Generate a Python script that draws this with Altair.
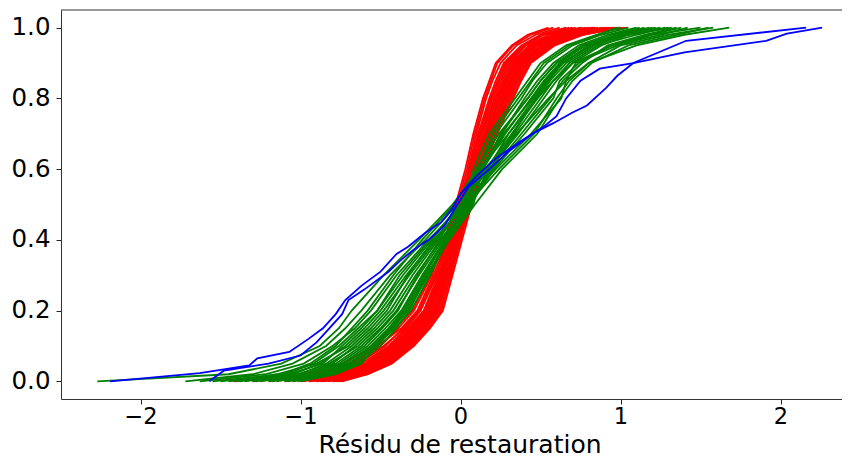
import altair as alt
import pandas as pd

# ECDF levels (cumulative fraction) used for the red and green curves
Y_LEVELS = [0.0, 0.02, 0.05, 0.10, 0.15, 0.20, 0.30, 0.40, 0.50, 0.60, 0.70,
            0.80, 0.85, 0.90, 0.95, 0.98, 1.0]

RED_X = [
    [-1.42, -0.98, -0.74, -0.54, -0.41, -0.30, -0.19, -0.09, -0.02, 0.04, 0.09, 0.15, 0.19, 0.23, 0.33, 0.44, 0.58],
    [-1.20, -0.92, -0.70, -0.50, -0.39, -0.29, -0.18, -0.10, -0.03, 0.03, 0.08, 0.14, 0.18, 0.22, 0.32, 0.42, 0.55],
    [-1.05, -0.85, -0.68, -0.52, -0.37, -0.27, -0.17, -0.08, -0.01, 0.05, 0.10, 0.16, 0.20, 0.25, 0.35, 0.47, 0.62],
    [-0.98, -0.80, -0.64, -0.47, -0.36, -0.26, -0.16, -0.07, 0.00, 0.06, 0.11, 0.18, 0.22, 0.27, 0.38, 0.50, 0.66],
    [-1.10, -0.78, -0.62, -0.45, -0.34, -0.25, -0.15, -0.08, 0.01, 0.05, 0.12, 0.19, 0.24, 0.29, 0.40, 0.52, 0.70],
    [-0.92, -0.75, -0.60, -0.44, -0.33, -0.23, -0.14, -0.06, 0.00, 0.07, 0.13, 0.20, 0.25, 0.30, 0.41, 0.55, 0.72],
    [-0.88, -0.73, -0.58, -0.43, -0.31, -0.22, -0.13, -0.05, 0.02, 0.08, 0.14, 0.21, 0.26, 0.31, 0.43, 0.57, 0.75],
    [-0.95, -0.72, -0.57, -0.41, -0.30, -0.21, -0.12, -0.06, 0.01, 0.08, 0.15, 0.22, 0.27, 0.32, 0.44, 0.58, 0.78],
    [-0.85, -0.70, -0.55, -0.40, -0.29, -0.20, -0.12, -0.04, 0.03, 0.09, 0.15, 0.23, 0.28, 0.33, 0.45, 0.60, 0.80],
    [-0.82, -0.68, -0.54, -0.38, -0.28, -0.19, -0.11, -0.03, 0.02, 0.10, 0.16, 0.24, 0.29, 0.34, 0.47, 0.62, 0.83],
    [-0.90, -0.66, -0.52, -0.37, -0.27, -0.18, -0.10, -0.04, 0.04, 0.10, 0.17, 0.25, 0.30, 0.35, 0.48, 0.63, 0.86],
    [-0.80, -0.65, -0.51, -0.36, -0.26, -0.18, -0.10, -0.02, 0.03, 0.11, 0.18, 0.26, 0.31, 0.36, 0.50, 0.65, 0.90],
    [-0.78, -0.63, -0.50, -0.35, -0.25, -0.17, -0.09, -0.03, 0.05, 0.11, 0.18, 0.27, 0.32, 0.37, 0.51, 0.67, 0.93],
    [-0.86, -0.62, -0.48, -0.34, -0.24, -0.16, -0.08, -0.01, 0.04, 0.12, 0.19, 0.28, 0.33, 0.38, 0.52, 0.69, 0.96],
    [-0.76, -0.61, -0.47, -0.33, -0.23, -0.15, -0.08, -0.02, 0.06, 0.12, 0.20, 0.29, 0.34, 0.39, 0.54, 0.70, 1.00],
    [-0.77, -0.60, -0.46, -0.32, -0.22, -0.14, -0.07, 0.00, 0.05, 0.13, 0.21, 0.30, 0.35, 0.41, 0.55, 0.72, 1.04],
    [-0.75, -0.59, -0.45, -0.31, -0.21, -0.13, -0.06, -0.01, 0.07, 0.13, 0.21, 0.31, 0.36, 0.42, 0.57, 0.74, 0.88],
    [-0.74, -0.58, -0.44, -0.30, -0.20, -0.12, -0.06, 0.00, 0.06, 0.14, 0.22, 0.32, 0.37, 0.43, 0.58, 0.76, 0.95],
    [-0.80, -0.58, -0.43, -0.29, -0.19, -0.11, -0.05, 0.01, 0.07, 0.14, 0.23, 0.33, 0.38, 0.44, 0.59, 0.77, 0.99],
    [-1.00, -0.76, -0.59, -0.42, -0.32, -0.22, -0.13, -0.05, 0.02, 0.09, 0.16, 0.25, 0.31, 0.37, 0.50, 0.64, 0.84],
    [-0.87, -0.69, -0.53, -0.39, -0.28, -0.19, -0.11, -0.03, 0.03, 0.10, 0.17, 0.27, 0.32, 0.39, 0.53, 0.71, 0.92],
    [-0.94, -0.71, -0.56, -0.42, -0.30, -0.21, -0.13, -0.06, 0.01, 0.07, 0.13, 0.22, 0.28, 0.34, 0.46, 0.59, 0.76],
    [-0.83, -0.67, -0.51, -0.36, -0.25, -0.16, -0.09, -0.02, 0.04, 0.11, 0.19, 0.28, 0.34, 0.40, 0.55, 0.73, 0.98],
    [-0.79, -0.64, -0.49, -0.34, -0.24, -0.15, -0.07, -0.01, 0.05, 0.12, 0.20, 0.30, 0.35, 0.42, 0.56, 0.75, 1.02],
    [-1.30, -0.88, -0.66, -0.48, -0.35, -0.25, -0.15, -0.07, 0.00, 0.06, 0.12, 0.19, 0.23, 0.28, 0.39, 0.51, 0.68],
    [-0.90, -0.74, -0.57, -0.40, -0.29, -0.20, -0.11, -0.04, 0.03, 0.09, 0.16, 0.24, 0.29, 0.35, 0.48, 0.61, 0.82],
]

GREEN_X = [
    [-2.27, -1.45, -1.12, -0.88, -0.76, -0.68, -0.48, -0.26, -0.05, 0.12, 0.30, 0.48, 0.58, 0.70, 0.95, 1.25, 1.42],
    [-1.72, -1.30, -1.05, -0.84, -0.72, -0.62, -0.44, -0.22, -0.02, 0.15, 0.35, 0.55, 0.66, 0.80, 1.10, 1.40, 1.68],
    [-1.63, -1.22, -0.98, -0.80, -0.66, -0.56, -0.40, -0.20, 0.02, 0.22, 0.44, 0.63, 0.66, 0.72, 0.98, 1.20, 1.50],
    [-1.50, -1.10, -0.92, -0.76, -0.64, -0.52, -0.36, -0.18, 0.00, 0.18, 0.36, 0.52, 0.60, 0.70, 0.88, 1.05, 1.30],
    [-1.45, -1.05, -0.88, -0.72, -0.60, -0.50, -0.34, -0.16, 0.03, 0.20, 0.38, 0.56, 0.64, 0.76, 0.92, 1.15, 1.35],
    [-1.40, -1.15, -0.90, -0.70, -0.58, -0.48, -0.32, -0.15, 0.01, 0.16, 0.32, 0.48, 0.56, 0.66, 0.84, 1.02, 1.20],
    [-1.35, -1.00, -0.84, -0.68, -0.56, -0.46, -0.33, -0.17, 0.04, 0.24, 0.46, 0.60, 0.68, 0.80, 1.00, 1.30, 1.58],
    [-1.30, -0.98, -0.80, -0.66, -0.54, -0.44, -0.30, -0.14, 0.02, 0.14, 0.28, 0.44, 0.52, 0.62, 0.78, 0.98, 1.15],
    [-1.28, -1.02, -0.82, -0.64, -0.52, -0.42, -0.28, -0.12, 0.05, 0.19, 0.34, 0.50, 0.58, 0.68, 0.86, 1.10, 1.28],
    [-1.25, -0.95, -0.78, -0.62, -0.50, -0.40, -0.26, -0.11, 0.03, 0.12, 0.26, 0.40, 0.48, 0.58, 0.74, 0.92, 1.10],
    [-1.20, -0.93, -0.76, -0.60, -0.49, -0.39, -0.27, -0.13, 0.06, 0.21, 0.40, 0.58, 0.62, 0.74, 0.94, 1.18, 1.38],
    [-1.18, -0.90, -0.74, -0.58, -0.47, -0.37, -0.24, -0.10, 0.04, 0.10, 0.22, 0.38, 0.45, 0.54, 0.70, 0.88, 1.05],
    [-1.15, -0.88, -0.72, -0.56, -0.45, -0.36, -0.23, -0.09, 0.07, 0.17, 0.30, 0.46, 0.54, 0.64, 0.82, 1.00, 1.22],
    [-1.10, -0.86, -0.70, -0.55, -0.44, -0.35, -0.22, -0.10, 0.05, 0.08, 0.18, 0.34, 0.42, 0.50, 0.66, 0.85, 1.00],
    [-1.08, -0.84, -0.68, -0.54, -0.43, -0.34, -0.21, -0.08, 0.08, 0.14, 0.25, 0.42, 0.50, 0.60, 0.76, 0.95, 1.12],
    [-1.05, -0.82, -0.66, -0.52, -0.42, -0.33, -0.20, -0.09, 0.06, 0.11, 0.20, 0.36, 0.44, 0.52, 0.68, 0.86, 0.98],
    [-1.02, -0.80, -0.64, -0.50, -0.40, -0.32, -0.21, -0.07, 0.09, 0.26, 0.48, 0.62, 0.70, 0.82, 1.05, 1.35, 1.55],
    [-1.00, -0.78, -0.62, -0.53, -0.41, -0.31, -0.19, -0.08, 0.07, 0.18, 0.33, 0.47, 0.55, 0.64, 0.80, 1.02, 1.25],
    [-1.38, -1.08, -0.86, -0.74, -0.62, -0.52, -0.38, -0.19, 0.00, 0.13, 0.27, 0.45, 0.53, 0.63, 0.82, 1.05, 1.32],
    [-1.55, -1.12, -0.94, -0.78, -0.68, -0.58, -0.42, -0.24, -0.04, 0.10, 0.24, 0.42, 0.50, 0.60, 0.78, 1.00, 1.18],
]

BLUE_A_X = [-2.19, -1.63, -1.32, -1.27, -1.07, -0.95, -0.86, -0.78, -0.72, -0.62, -0.50, -0.40, -0.33,
            -0.22, -0.12, -0.05, 0.00, 0.10, 0.22, 0.38, 0.52, 0.60, 0.66, 0.75, 0.87, 1.08, 1.40, 1.91, 2.04, 2.26]
BLUE_A_Y = [0.0, 0.023, 0.045, 0.065, 0.083, 0.12, 0.15, 0.19, 0.23, 0.27, 0.31, 0.36, 0.38,
            0.42, 0.45, 0.49, 0.53, 0.58, 0.63, 0.68, 0.72, 0.75, 0.80, 0.85, 0.884, 0.90, 0.93, 0.963, 0.983, 1.0]
BLUE_B_X = [-1.57, -1.48, -1.20, -1.00, -0.90, -0.84, -0.74, -0.70, -0.60, -0.45, -0.38, -0.30, -0.20,
            -0.10, -0.02, 0.05, 0.18, 0.30, 0.45, 0.58, 0.70, 0.79, 0.91, 0.98, 1.08, 1.31, 1.41, 2.16]
BLUE_B_Y = [0.0, 0.03, 0.05, 0.073, 0.11, 0.14, 0.19, 0.23, 0.26, 0.31, 0.34, 0.37, 0.40,
            0.44, 0.50, 0.55, 0.60, 0.65, 0.70, 0.73, 0.76, 0.78, 0.83, 0.864, 0.90, 0.944, 0.963, 1.0]

rows = []
for i, xs in enumerate(RED_X):
    for k, (x, y) in enumerate(zip(xs, Y_LEVELS)):
        rows.append({"curve": f"r{i}", "grp": "red", "x": x, "y": y, "k": k})
for i, xs in enumerate(GREEN_X):
    for k, (x, y) in enumerate(zip(xs, Y_LEVELS)):
        rows.append({"curve": f"g{i}", "grp": "green", "x": x, "y": y, "k": k})
for name, xs, ys in [("bA", BLUE_A_X, BLUE_A_Y), ("bB", BLUE_B_X, BLUE_B_Y)]:
    for k, (x, y) in enumerate(zip(xs, ys)):
        rows.append({"curve": name, "grp": "blue", "x": x, "y": y, "k": k})
df = pd.DataFrame(rows)

W = 781
H = 389
FONT = "DejaVu Sans"

xscale = alt.Scale(domain=[-2.497, -2.497 + W / 160.0], nice=False, zero=False)
yscale = alt.Scale(domain=[-0.05, 1.05], nice=False, zero=False)

xaxis = alt.Axis(values=[-2, -1, 0, 1, 2], format="d", grid=False, tickSize=5,
                 tickColor="#222", domainColor="#333", domainWidth=1, tickWidth=1,
                 labelFont=FONT, labelFontSize=22.5, labelColor="#000", labelPadding=1,
                 title="Résidu de restauration", titleFont=FONT, titleFontSize=25,
                 titleFontWeight="normal", titleColor="#000", titleX=398.5, titleY=53,
                 titleAlign="center", titleBaseline="alphabetic")
yaxis = alt.Axis(values=[0, 0.2, 0.4, 0.6, 0.8, 1.0], format=".1f", grid=False, tickSize=5,
                 tickColor="#222", domainColor="#333", domainWidth=1, tickWidth=1,
                 labelFont=FONT, labelFontSize=24.5, labelColor="#000", labelPadding=6)

base = alt.Chart(df)


def lines(grp, color):
    return base.transform_filter(alt.datum.grp == grp).mark_line(
        color=color, strokeWidth=1.8
    ).encode(
        x=alt.X("x:Q", scale=xscale, axis=xaxis),
        y=alt.Y("y:Q", scale=yscale, axis=yaxis, title=None),
        detail="curve:N",
        order="k:Q",
    )


top = alt.Chart(pd.DataFrame({"a": [0]})).mark_rule(color="#333", strokeWidth=1).encode(
    x=alt.value(0), x2=alt.value(W), y=alt.value(0)
)

chart = alt.layer(
    lines("red", "#ff0000"),
    lines("green", "#008000"),
    lines("blue", "#0000ff"),
    top,
).properties(
    width=W,
    height=H,
    autosize=alt.AutoSizeParams(type="none"),
    padding={"left": 53, "top": 2, "right": 0, "bottom": 61},
).configure_view(stroke=None)

chart.save("out.html", embed_options={"renderer": "svg", "actions": False})
